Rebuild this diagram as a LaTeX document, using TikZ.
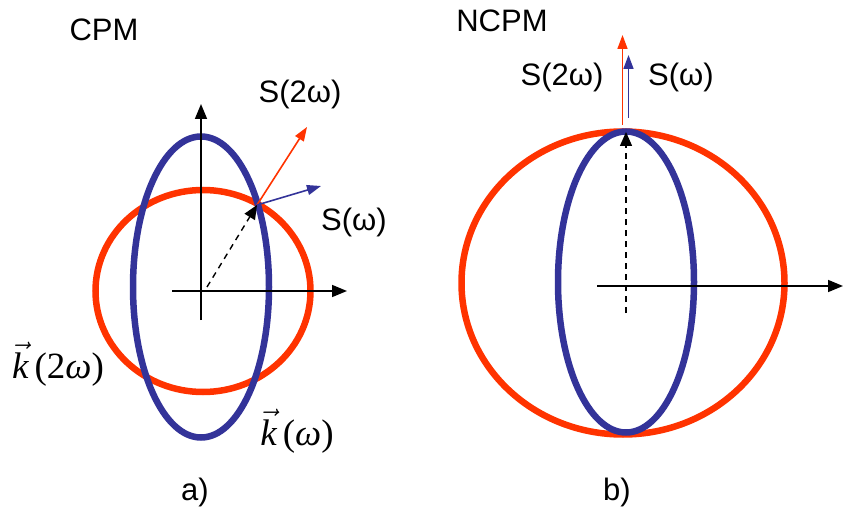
\RequirePackage{fix-cm}
\documentclass[tikz,border=0pt]{standalone}
\usepackage{fontspec}
\setmainfont{Liberation Sans}
\newfontfamily\tsf{Liberation Serif}
\newcommand{\myveck}{$\vec{\hbox{\tsf\itshape k}}$}
\usetikzlibrary{arrows.meta}
\definecolor{myred}{RGB}{255,51,0}
\definecolor{myblue}{RGB}{51,51,153}
\begin{document}
\begin{tikzpicture}[x=1pt,y=-1pt,
  lbl/.style={font=\fontsize{31}{37}\selectfont, inner sep=0pt},
  mlbl/.style={font=\tsf\fontsize{37}{44}\selectfont, inner sep=0pt},
  redring/.style={draw=myred, line width=6.5pt},
  bluering/.style={draw=myblue, line width=6.5pt},
  axis/.style={line width=1.6pt, -{Triangle[length=15pt,width=12pt]}},
  darr/.style={line width=1.4pt, dash pattern=on 6pt off 5pt, -{Triangle[length=14pt,width=12pt]}},
  redarr/.style={myred, line width=1.6pt, -{Triangle[length=14pt,width=10pt]}},
  bluearr/.style={myblue, line width=1.6pt, -{Triangle[length=14pt,width=10pt]}}]
\useasboundingbox (0,0) rectangle (844,508);

% ---------- panel a) CPM ----------
\draw[redring] (203,291) ellipse [x radius=107.5pt, y radius=101pt];
\draw[bluering] (201,287) ellipse [x radius=68pt, y radius=150.5pt];

\coordinate (ao) at (201,291);
\coordinate (avb) at (201,320);
\coordinate (avt) at (201,104);
\coordinate (ahl) at (172,291);
\coordinate (ahr) at (347,291);
\coordinate (ads) at (207,287);
\coordinate (ap) at (257,205);
\coordinate (aS2) at (307,127);
\coordinate (aS1) at (321,186);

\draw[axis] (avb) -- (avt);
\draw[axis] (ahl) -- (ahr);
\draw[darr] (ads) -- (ap);
\draw[redarr] (ap) -- (aS2);
\draw[bluearr] (ap) -- (aS1);

\node[lbl] (cpm) at (104,30) {CPM};
\node[lbl] (as2l) at (300,94) {S(2ω)};
\node[lbl] (as1l) at (354,222) {S(ω)};
\node[mlbl] (ak2) at (58,364) {\myveck\,(2{\itshape ω})};
\node[mlbl] (ak1) at (297,431) {\myveck\,({\itshape ω})};
\node[lbl] (alab) at (195,492) {a)};

% ---------- panel b) NCPM ----------
\draw[redring] (623,283) ellipse [x radius=161.5pt, y radius=151.5pt];
\draw[bluering] (626,282) ellipse [x radius=68pt, y radius=150.5pt];

\coordinate (bhl) at (597,286);
\coordinate (bhr) at (843,286);
\coordinate (bdb) at (626,313);
\coordinate (bdt) at (626,132);
\coordinate (brb) at (622.5,125);
\coordinate (brt) at (622.5,35);
\coordinate (bbb) at (628.5,118);
\coordinate (bbt) at (628.5,55);

\draw[axis] (bhl) -- (bhr);
\draw[darr] (bdb) -- (bdt);
\draw[redarr] (brb) -- (brt);
\draw[bluearr] (bbb) -- (bbt);

\node[lbl] (ncpm) at (502,21) {NCPM};
\node[lbl] (bs2l) at (562,77) {S(2ω)};
\node[lbl] (bs1l) at (681,77) {S(ω)};
\node[lbl] (blab) at (617,492) {b)};
\end{tikzpicture}
\end{document}
